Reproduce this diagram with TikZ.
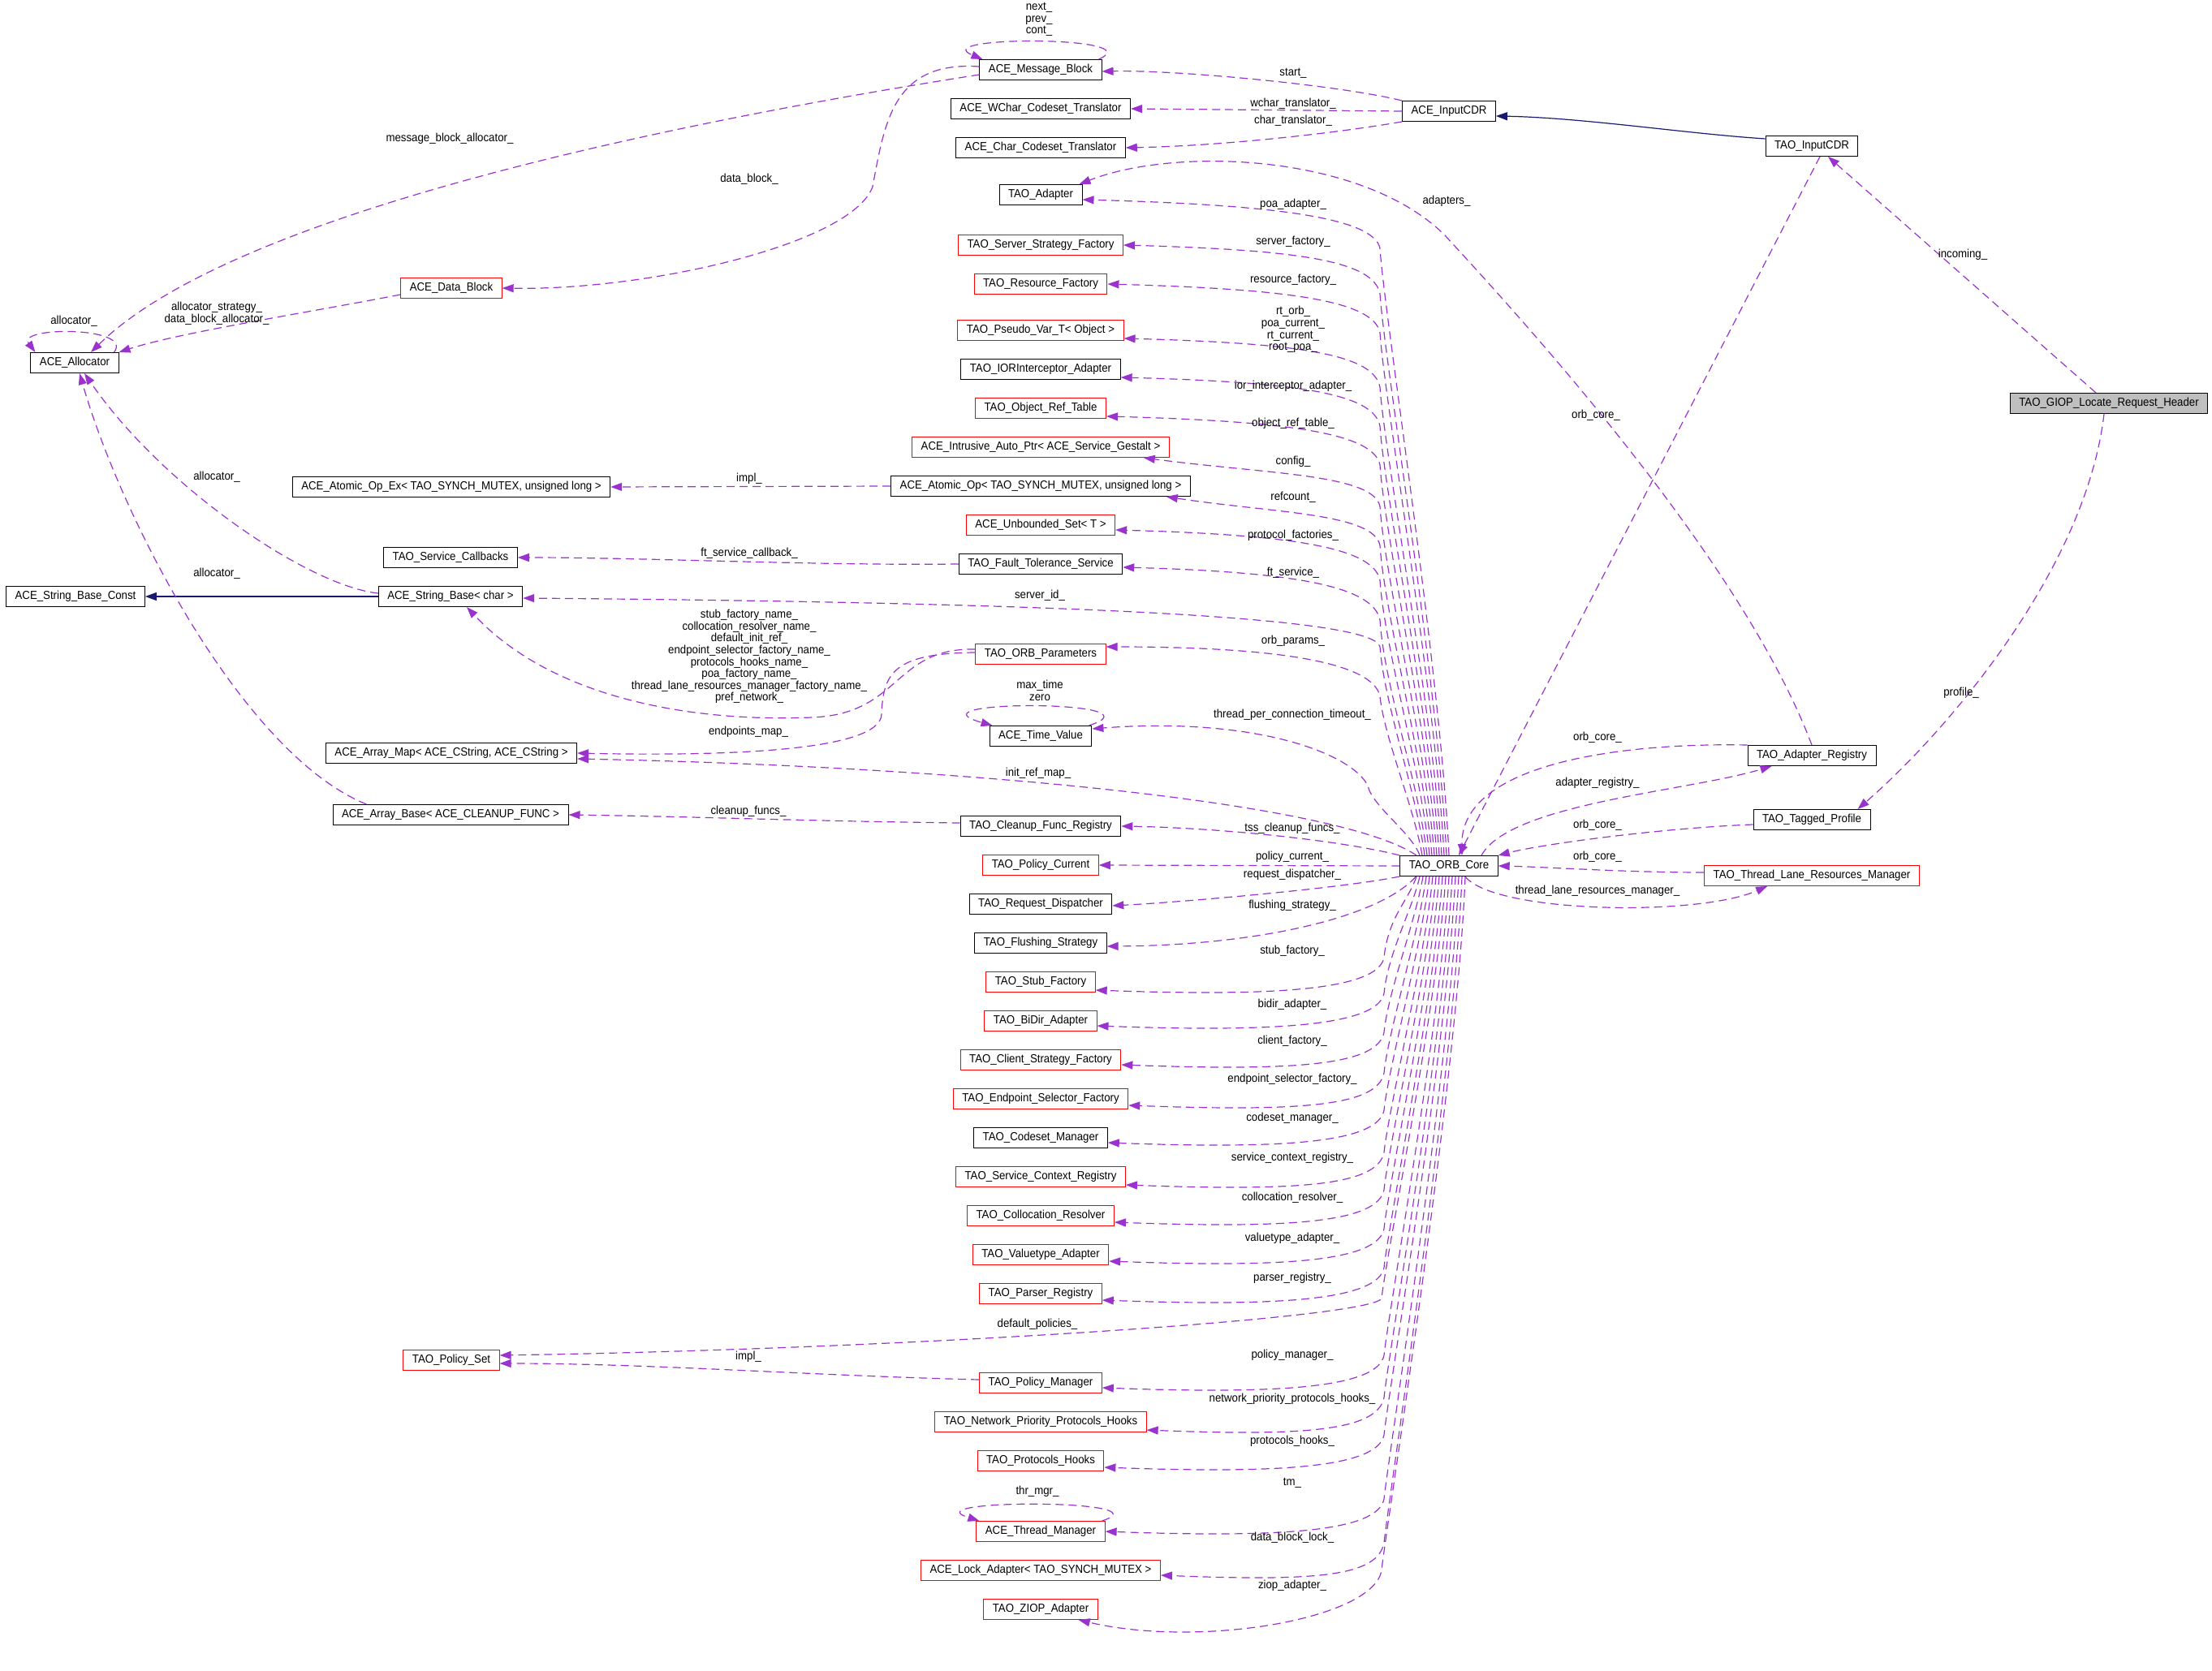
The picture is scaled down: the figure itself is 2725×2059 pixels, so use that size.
\documentclass[tikz,border=0pt]{standalone}
\usepackage{fontspec}
\usepackage{tikz}
\usetikzlibrary{arrows.meta, positioning}
\newfontfamily\dxfont[FakeStretch=0.92]{Liberation Sans}
\newcommand\dxsize{\fontsize{7.2pt}{7.3pt}\selectfont}
\definecolor{edgepurple}{HTML}{9A32CD}
\definecolor{inhblue}{HTML}{191970}
\definecolor{boxred}{HTML}{FF0000}
\definecolor{boxgray}{HTML}{BFBFBF}

\begin{document}
\begin{tikzpicture}[x=0.5pt, y=-0.5pt, node distance=24pt]
	\tikzstyle{cls} = [rectangle, draw=black, line width=0.5pt, minimum height=12.5pt, inner xsep=5.5pt, inner ysep=0.5pt, font=\dxfont\dxsize]
	\tikzstyle{clsred} = [cls, draw=boxred]
	\tikzstyle{clsmain} = [cls, fill=boxgray]
	\tikzstyle{lbl} = [font=\dxfont\dxsize, inner sep=0pt, align=center]
	
	\tikzstyle{uses} = [draw=edgepurple, line width=0.6pt, dash pattern=on 5pt off 3pt, -{Triangle[length=7pt,width=5pt]}]
	\tikzstyle{inherit} = [draw=inhblue, line width=0.6pt, -{Triangle[length=7pt,width=5pt]}]
	
	\useasboundingbox (0,0) rectangle (2725,2059);
	
	% Middle column
	\node (msgblock) [cls] at (1282,86) {ACE\_Message\_Block};
	\node (wchar) [cls, below of=msgblock] {ACE\_WChar\_Codeset\_Translator};
	\node (chartr) [cls, below of=wchar] {ACE\_Char\_Codeset\_Translator};
	\node (adapter) [cls, below of=chartr, yshift=-5pt] {TAO\_Adapter};
	\node (serverstrat) [clsred, below of=adapter, yshift=-7pt] {TAO\_Server\_Strategy\_Factory};
	\node (resource) [clsred, below of=serverstrat] {TAO\_Resource\_Factory};
	\node (pseudo) [clsred, below of=resource, yshift=-4.5pt] {TAO\_Pseudo\_Var\_T< Object >};
	\node (ior) [cls, below of=pseudo] {TAO\_IORInterceptor\_Adapter};
	\node (objref) [clsred, below of=ior] {TAO\_Object\_Ref\_Table};
	\node (intrusive) [clsred, below of=objref] {ACE\_Intrusive\_Auto\_Ptr< ACE\_Service\_Gestalt >};
	\node (atomic) [cls, below of=intrusive] {ACE\_Atomic\_Op< TAO\_SYNCH\_MUTEX, unsigned long >};
	\node (unbounded) [clsred, below of=atomic] {ACE\_Unbounded\_Set< T >};
	\node (ft) [cls, below of=unbounded] {TAO\_Fault\_Tolerance\_Service};
	\node (orbparams) [clsred, below of=ft, yshift=-31.5pt] {TAO\_ORB\_Parameters};
	\node (timeval) [cls, below of=orbparams, yshift=-26.5pt] {ACE\_Time\_Value};
	\node (cleanup) [cls, below of=timeval, yshift=-31.5pt] {TAO\_Cleanup\_Func\_Registry};
	\node (policycur) [clsred, below of=cleanup] {TAO\_Policy\_Current};
	\node (reqdisp) [cls, below of=policycur] {TAO\_Request\_Dispatcher};
	\node (flush) [cls, below of=reqdisp] {TAO\_Flushing\_Strategy};
	\node (stubf) [clsred, below of=flush] {TAO\_Stub\_Factory};
	\node (bidir) [clsred, below of=stubf] {TAO\_BiDir\_Adapter};
	\node (clientf) [clsred, below of=bidir] {TAO\_Client\_Strategy\_Factory};
	\node (endpoint) [clsred, below of=clientf] {TAO\_Endpoint\_Selector\_Factory};
	\node (codeset) [cls, below of=endpoint] {TAO\_Codeset\_Manager};
	\node (svcctx) [clsred, below of=codeset] {TAO\_Service\_Context\_Registry};
	\node (colloc) [clsred, below of=svcctx] {TAO\_Collocation\_Resolver};
	\node (valuetype) [clsred, below of=colloc] {TAO\_Valuetype\_Adapter};
	\node (parser) [clsred, below of=valuetype] {TAO\_Parser\_Registry};
	\node (policymgr) [clsred, below of=parser, yshift=-31pt] {TAO\_Policy\_Manager};
	\node (network) [clsred, below of=policymgr] {TAO\_Network\_Priority\_Protocols\_Hooks};
	\node (protohooks) [clsred, below of=network] {TAO\_Protocols\_Hooks};
	\node (threadmgr) [clsred, below of=protohooks, yshift=-19.5pt] {ACE\_Thread\_Manager};
	\node (lockadapter) [clsred, below of=threadmgr] {ACE\_Lock\_Adapter< TAO\_SYNCH\_MUTEX >};
	\node (ziop) [clsred, below of=lockadapter] {TAO\_ZIOP\_Adapter};
	
	% Left side
	\node (allocator) [cls] at (92,447) {ACE\_Allocator};
	\node (datablock) [clsred] at (556,355) {ACE\_Data\_Block};
	\node (atomicex) [cls] at (556,600) {ACE\_Atomic\_Op\_Ex< TAO\_SYNCH\_MUTEX, unsigned long >};
	\node (svccb) [cls] at (555,687) {TAO\_Service\_Callbacks};
	\node (sbc) [cls] at (93,735) {ACE\_String\_Base\_Const};
	\node (sb) [cls] at (555,735) {ACE\_String\_Base< char >};
	\node (arraymap) [cls] at (556,928) {ACE\_Array\_Map< ACE\_CString, ACE\_CString >};
	\node (arraybase) [cls] at (555,1004) {ACE\_Array\_Base< ACE\_CLEANUP\_FUNC >};
	\node (policyset) [clsred] at (556,1676) {TAO\_Policy\_Set};
	
	% Right side
	\node (acein) [cls] at (1785,137) {ACE\_InputCDR};
	\node (tinput) [cls] at (2232,180) {TAO\_InputCDR};
	\node (giop) [clsmain] at (2598,497) {TAO\_GIOP\_Locate\_Request\_Header};
	\node (core) [cls] at (1785,1067) {TAO\_ORB\_Core};
	\node (areg) [cls] at (2232,931) {TAO\_Adapter\_Registry};
	\node (tagged) [cls] at (2232,1010) {TAO\_Tagged\_Profile};
	\node (tlrm) [clsred] at (2232,1079) {TAO\_Thread\_Lane\_Resources\_Manager};
	
	% Inheritance
	\draw [inherit] ([yshift=-2pt]tinput.north west) .. controls (2080,165) and (1950,145) .. ([yshift=-3pt]acein.east);
	\draw [inherit] (sb.west) -- (sbc.east);
	
	% Top right
	\draw [uses] ([xshift=-8pt]giop.north) -- ([xshift=10pt]tinput.south);
	\draw [uses] ([xshift=-3pt]giop.south) .. controls (2570,700) and (2400,900) .. ([xshift=-8pt]tagged.north east);
	\draw [uses] ([xshift=5pt]tinput.south) -- ([xshift=6pt]core.north);
	\draw [uses] (acein.north west) .. controls (1650,105) and (1450,86) .. ([yshift=-1pt]msgblock.east);
	\draw [uses] (acein.west) -- (wchar.east);
	\draw [uses] (acein.south west) .. controls (1640,165) and (1500,180) .. (chartr.east);
	\draw [uses] ([xshift=-2pt]msgblock.north east) .. controls (1420,44) and (1140,44) .. ([xshift=2pt]msgblock.north west);
	\draw [uses] ([yshift=-3pt]msgblock.west) .. controls (900,140) and (300,250) .. ([xshift=10pt]allocator.north);
	\draw [uses] ([yshift=2pt]msgblock.west) .. controls (1100,75) and (1090,150) .. (1075,230) .. controls (1050,300) and (800,358) .. (datablock.east);
	
	% Allocator
	\draw [uses] ([yshift=-4pt]datablock.west) .. controls (380,385) and (220,410) .. (allocator.north east);
	\draw [uses] ([xshift=-3pt]allocator.north east) .. controls (165,402) and (20,402) .. ([xshift=3pt]allocator.north west);
	\draw [uses] ([yshift=2pt]sb.west) .. controls (380,722) and (200,600) .. ([xshift=6pt]allocator.south);
	\draw [uses] ([xshift=21pt]arraybase.north west) .. controls (300,930) and (150,640) .. ([xshift=3pt]allocator.south);
	\draw [uses] (atomic.west) -- (atomicex.east);
	\draw [uses] (ft.west) .. controls (1000,697) and (800,687) .. (svccb.east);
	
	% Parameters and maps
	\draw [uses] ([yshift=3pt]orbparams.west) .. controls (1100,798) and (1110,880) .. (1000,884) .. controls (850,890) and (680,860) .. ([xshift=10pt]sb.south);
	\draw [uses] ([yshift=1pt]orbparams.west) .. controls (1100,805) and (1088,830) .. (1086,880) .. controls (1085,925) and (900,932) .. (arraymap.east);
	\draw [uses] ([xshift=-2pt]timeval.north east) .. controls (1440,862) and (1110,862) .. ([xshift=2pt]timeval.north west);
	\draw [uses] ([yshift=2pt]cleanup.west) .. controls (1000,1012) and (850,1006) .. (arraybase.east);
	\draw [uses] ([yshift=2pt]policymgr.west) .. controls (1000,1695) and (800,1680) .. ([yshift=-2pt]policyset.east);
	\draw [uses] ([xshift=-2pt]threadmgr.north east) .. controls (1440,1847) and (1120,1847) .. ([xshift=2pt]threadmgr.north west);
	
	% ORB core upwards
	\draw [uses] (core.north) .. controls +(-10,-224) and +(5,80) .. (1700,306) .. controls +(-8,-40) and +(220,6) .. ([yshift=-3pt]adapter.east);
	\draw [uses] ([xshift=-1.5pt]core.north) .. controls +(-10,-208) and +(5,80) .. (1700,362) .. controls +(-8,-40) and +(220,6) .. (serverstrat.east);
	\draw [uses] ([xshift=-3pt]core.north) .. controls +(-10,-193) and +(5,80) .. (1700,410) .. controls +(-8,-40) and +(220,6) .. (resource.east);
	\draw [uses] ([xshift=-4.5pt]core.north) .. controls +(-10,-173) and +(5,80) .. (1700,477) .. controls +(-8,-40) and +(220,6) .. ([yshift=-5pt]pseudo.east);
	\draw [uses] ([xshift=-6pt]core.north) .. controls +(-10,-159) and +(5,80) .. (1700,525) .. controls +(-8,-40) and +(220,6) .. ([yshift=-5pt]ior.east);
	\draw [uses] ([xshift=-7.5pt]core.north) .. controls +(-10,-144) and +(5,80) .. (1700,573) .. controls +(-8,-40) and +(220,6) .. ([yshift=-5pt]objref.east);
	\draw [uses] ([xshift=-9pt]core.north) .. controls +(-10,-129) and +(5,80) .. (1700,624) .. controls +(-8,-40) and +(150,20) .. ([xshift=-16pt]intrusive.south east);
	\draw [uses] ([xshift=-10.5pt]core.north) .. controls +(-10,-115) and +(5,80) .. (1700,672) .. controls +(-8,-40) and +(130,20) .. ([xshift=-15pt]atomic.south east);
	\draw [uses] ([xshift=-12pt]core.north) .. controls +(-10,-102) and +(5,80) .. (1700,715) .. controls +(-8,-40) and +(220,6) .. ([yshift=-3pt]unbounded.east);
	\draw [uses] ([xshift=-13.5pt]core.north) .. controls +(-10,-87) and +(5,80) .. (1700,764) .. controls +(-8,-40) and +(220,6) .. ([yshift=-2pt]ft.east);
	\draw [uses] ([xshift=-15pt]core.north) .. controls +(-10,-77) and +(5,70) .. (1700,797) .. controls +(-8,-40) and +(600,5) .. ([yshift=-1pt]sb.east);
	\draw [uses] ([xshift=-16.5pt]core.north) .. controls +(-10,-59) and +(5,50) .. (1700,858) .. controls +(-8,-40) and +(220,0) .. ([yshift=-2pt]orbparams.north east);
	\draw [uses] ([xshift=-18pt]core.north) .. controls +(-10,-28) and +(5,25) .. (1685,968) .. controls +(-20,-40) and +(200,-15) .. ([yshift=-2pt]timeval.north east);
	\draw [uses] ([xshift=-20pt]core.north) .. controls (1650,990) and (1200,945) .. ([yshift=3pt]arraymap.south east);
	\draw [uses] (core.north west) .. controls (1650,1035) and (1500,1020) .. (cleanup.east);
	\draw [uses] (core.west) -- (policycur.east);
	
	% ORB core downwards
	\draw [uses] (core.south west) .. controls (1650,1095) and (1450,1112) .. ([yshift=-1pt]reqdisp.east);
	\draw [uses] ([xshift=10pt]core.south west) .. controls (1700,1130) and (1550,1165) .. ([yshift=-2pt]flush.east);
	\draw [uses] ([xshift=-20pt]core.south) .. controls +(-10,30) and +(5,-50) .. (1705,1180) .. controls +(-8,40) and +(220,8) .. ([yshift=-5pt]stubf.east);
	\draw [uses] ([xshift=-18pt]core.south) .. controls +(-10,43) and +(5,-50) .. (1705,1224) .. controls +(-8,40) and +(220,8) .. ([yshift=-3pt]bidir.east);
	\draw [uses] ([xshift=-16pt]core.south) .. controls +(-10,58) and +(5,-50) .. (1705,1272) .. controls +(-8,40) and +(220,8) .. ([yshift=-3pt]clientf.east);
	\draw [uses] ([xshift=-14pt]core.south) .. controls +(-10,73) and +(5,-50) .. (1705,1322) .. controls +(-8,40) and +(220,8) .. ([yshift=-4pt]endpoint.east);
	\draw [uses] ([xshift=-12pt]core.south) .. controls +(-10,86) and +(5,-50) .. (1705,1368) .. controls +(-8,40) and +(220,8) .. ([yshift=-3pt]codeset.east);
	\draw [uses] ([xshift=-10pt]core.south) .. controls +(-10,102) and +(5,-50) .. (1705,1420) .. controls +(-8,40) and +(220,8) .. ([yshift=-5pt]svcctx.east);
	\draw [uses] ([xshift=-8pt]core.south) .. controls +(-10,116) and +(5,-50) .. (1705,1466) .. controls +(-8,40) and +(220,8) .. ([yshift=-4pt]colloc.east);
	\draw [uses] ([xshift=-6pt]core.south) .. controls +(-10,130) and +(5,-50) .. (1705,1514) .. controls +(-8,40) and +(220,8) .. ([yshift=-4pt]valuetype.east);
	\draw [uses] ([xshift=-4pt]core.south) .. controls +(-10,145) and +(5,-50) .. (1705,1562) .. controls +(-8,40) and +(220,8) .. ([yshift=-4pt]parser.east);
	\draw [uses] ([xshift=-2pt]core.south) .. controls +(-10,156) and +(5,-50) .. (1702,1600) .. controls +(-15,25) and +(500,-8) .. ([yshift=3pt]policyset.east);
	\draw [uses] (core.south) .. controls +(-10,177) and +(5,-50) .. (1705,1670) .. controls +(-8,40) and +(220,8) .. ([yshift=-3pt]policymgr.east);
	\draw [uses] ([xshift=2pt]core.south) .. controls +(-10,193) and +(5,-50) .. (1705,1722) .. controls +(-8,40) and +(200,8) .. ([yshift=-5pt]network.east);
	\draw [uses] ([xshift=4pt]core.south) .. controls +(-10,206) and +(5,-50) .. (1705,1768) .. controls +(-8,40) and +(220,8) .. ([yshift=-4pt]protohooks.east);
	\draw [uses] ([xshift=6pt]core.south) .. controls +(-10,230) and +(5,-50) .. (1705,1847) .. controls +(-8,40) and +(220,8) .. (threadmgr.east);
	\draw [uses] ([xshift=8pt]core.south) .. controls +(-10,246) and +(5,-50) .. (1705,1901) .. controls +(-8,40) and +(200,8) .. ([yshift=-3pt]lockadapter.east);
	\draw [uses] ([xshift=10pt]core.south) .. controls +(-10,256) and +(5,-50) .. (1702,1935) .. controls +(-10,60) and +(150,35) .. ([xshift=-12pt]ziop.south east);
	
	% Registry, profile and lanes
	\draw [uses] (areg.north) .. controls (2150,700) and (1900,420) .. (1780,290) .. controls (1680,190) and (1450,180) .. ([xshift=-2pt]adapter.north east);
	\draw [uses] (areg.north west) .. controls (2000,915) and (1800,940) .. ([xshift=8pt]core.north);
	\draw [uses] ([xshift=20pt]core.north) .. controls (1860,990) and (2080,975) .. ([xshift=15pt]areg.south west);
	\draw [uses] ([yshift=-3pt]tagged.west) .. controls (2050,1020) and (1900,1040) .. (core.north east);
	\draw [uses] ([yshift=2pt]tlrm.west) .. controls (2000,1075) and (1900,1068) .. (core.east);
	\draw [uses] ([xshift=10pt]core.south) .. controls (1840,1125) and (2090,1130) .. ([xshift=39pt]tlrm.south west);
	
	% Labels
	\node (l-loop1) [lbl] at (1280,24) {next\_\\prev\_\\cont\_};
	\node (l-start) [lbl] at (1593,90) {start\_};
	\node (l-wchar) [lbl] at (1593,128) {wchar\_translator\_};
	\node (l-char) [lbl] at (1593,149) {char\_translator\_};
	\node (l-mballoc) [lbl] at (554,171) {message\_block\_allocator\_};
	\node (l-datablock) [lbl] at (923,221) {data\_block\_};
	\node (l-adapters) [lbl] at (1782,248) {adapters\_};
	\node (l-poa) [lbl] at (1593,252) {poa\_adapter\_};
	\node (l-server) [lbl] at (1593,298) {server\_factory\_};
	\node (l-incoming) [lbl] at (2418,314) {incoming\_};
	\node (l-resource) [lbl] at (1593,345) {resource\_factory\_};
	\node (l-dballoc) [lbl] at (267,386) {allocator\_strategy\_\\data\_block\_allocator\_};
	\node (l-loop2) [lbl] at (91,396) {allocator\_};
	\node (l-pseudo) [lbl] at (1593,406) {rt\_orb\_\\poa\_current\_\\rt\_current\_\\root\_poa\_};
	\node (l-ior) [lbl] at (1593,476) {ior\_interceptor\_adapter\_};
	\node (l-core1) [lbl] at (1966,512) {orb\_core\_};
	\node (l-objref) [lbl] at (1593,522) {object\_ref\_table\_};
	\node (l-config) [lbl] at (1593,569) {config\_};
	\node (l-sballoc) [lbl] at (267,588) {allocator\_};
	\node (l-impl1) [lbl] at (923,590) {impl\_};
	\node (l-refcount) [lbl] at (1593,613) {refcount\_};
	\node (l-protocol) [lbl] at (1593,660) {protocol\_factories\_};
	\node (l-ftcb) [lbl] at (923,682) {ft\_service\_callback\_};
	\node (l-aballoc) [lbl] at (267,707) {allocator\_};
	\node (l-ft) [lbl] at (1593,706) {ft\_service\_};
	\node (l-serverid) [lbl] at (1281,734) {server\_id\_};
	\node (l-names) [lbl] at (923,809) {stub\_factory\_name\_\\collocation\_resolver\_name\_\\default\_init\_ref\_\\endpoint\_selector\_factory\_name\_\\protocols\_hooks\_name\_\\poa\_factory\_name\_\\thread\_lane\_resources\_manager\_factory\_name\_\\pref\_network\_};
	\node (l-orbparams) [lbl] at (1593,790) {orb\_params\_};
	\node (l-loop3) [lbl] at (1281,851) {max\_time\\zero};
	\node (l-profile) [lbl] at (2416,854) {profile\_};
	\node (l-timeout) [lbl] at (1592,881) {thread\_per\_connection\_timeout\_};
	\node (l-endpoints) [lbl] at (922,902) {endpoints\_map\_};
	\node (l-core2) [lbl] at (1968,909) {orb\_core\_};
	\node (l-initref) [lbl] at (1279,953) {init\_ref\_map\_};
	\node (l-areg) [lbl] at (1968,965) {adapter\_registry\_};
	\node (l-cleanup) [lbl] at (922,1000) {cleanup\_funcs\_};
	\node (l-core3) [lbl] at (1968,1017) {orb\_core\_};
	\node (l-tss) [lbl] at (1592,1021) {tss\_cleanup\_funcs\_};
	\node (l-polcur) [lbl] at (1592,1056) {policy\_current\_};
	\node (l-core4) [lbl] at (1968,1056) {orb\_core\_};
	\node (l-reqdisp) [lbl] at (1592,1078) {request\_dispatcher\_};
	\node (l-tlrm) [lbl] at (1968,1098) {thread\_lane\_resources\_manager\_};
	\node (l-flush) [lbl] at (1592,1116) {flushing\_strategy\_};
	\node (l-stub) [lbl] at (1592,1172) {stub\_factory\_};
	\node (l-bidir) [lbl] at (1592,1238) {bidir\_adapter\_};
	\node (l-client) [lbl] at (1592,1283) {client\_factory\_};
	\node (l-endpoint) [lbl] at (1592,1330) {endpoint\_selector\_factory\_};
	\node (l-codeset) [lbl] at (1592,1378) {codeset\_manager\_};
	\node (l-svcctx) [lbl] at (1592,1427) {service\_context\_registry\_};
	\node (l-colloc) [lbl] at (1592,1476) {collocation\_resolver\_};
	\node (l-valuetype) [lbl] at (1592,1526) {valuetype\_adapter\_};
	\node (l-parser) [lbl] at (1592,1575) {parser\_registry\_};
	\node (l-defpol) [lbl] at (1278,1632) {default\_policies\_};
	\node (l-polmgr) [lbl] at (1592,1670) {policy\_manager\_};
	\node (l-impl2) [lbl] at (922,1672) {impl\_};
	\node (l-network) [lbl] at (1592,1724) {network\_priority\_protocols\_hooks\_};
	\node (l-protohooks) [lbl] at (1592,1776) {protocols\_hooks\_};
	\node (l-tm) [lbl] at (1592,1827) {tm\_};
	\node (l-loop4) [lbl] at (1278,1838) {thr\_mgr\_};
	\node (l-lock) [lbl] at (1592,1895) {data\_block\_lock\_};
	\node (l-ziop) [lbl] at (1592,1954) {ziop\_adapter\_};
\end{tikzpicture}
\end{document}
